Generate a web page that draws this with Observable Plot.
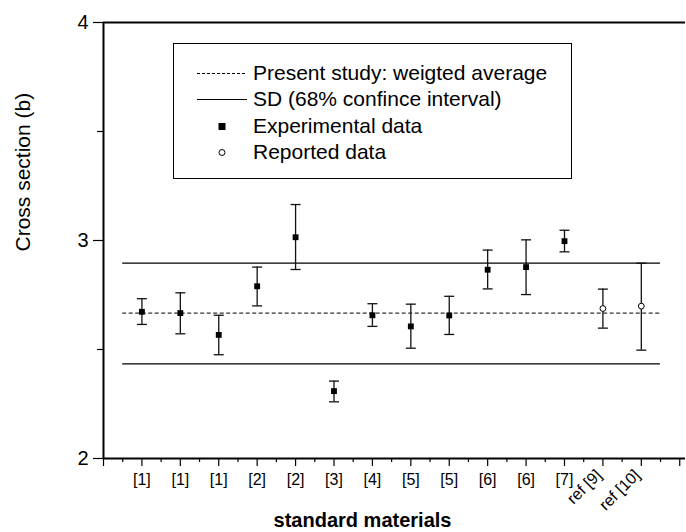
<!DOCTYPE html>
<html>
<head>
<meta charset="utf-8">
<script src="https://cdn.jsdelivr.net/npm/d3@7"></script>
<script src="https://cdn.jsdelivr.net/npm/@observablehq/plot@0.6"></script>
<style>
  html, body { margin: 0; padding: 0; background: #fff; }
  #wrap { position: relative; width: 686px; height: 532px; font-family: Arial, "Liberation Sans", sans-serif; }
  #legend { position: absolute; left: 173px; top: 43px; width: 399px; height: 136px; box-sizing: border-box; border: 1px solid #000; background: #fff; }
  .row { position: absolute; left: 0; height: 26px; line-height: 26px; font-size: 21px; color: #000; white-space: nowrap; }
  .row svg { position: absolute; left: 0; top: 0; }
  .row span { position: absolute; left: 79px; top: 0; }
</style>
</head>
<body>
<div id="wrap"></div>
<script>
// ---- data ----
const labels = ["[1]","[1]","[1]","[2]","[2]","[3]","[4]","[5]","[5]","[6]","[6]","[7]","ref [9]","ref [10]"];
const values = [2.673,2.667,2.567,2.790,3.015,2.309,2.657,2.606,2.656,2.866,2.878,2.997,2.688,2.699];
const upper  = [2.733,2.760,2.657,2.878,3.165,2.355,2.710,2.708,2.744,2.956,3.003,3.047,2.777,2.896];
const lower  = [2.615,2.572,2.476,2.700,2.867,2.260,2.606,2.506,2.569,2.778,2.752,2.948,2.598,2.497];
const kinds  = ["exp","exp","exp","exp","exp","exp","exp","exp","exp","exp","exp","exp","rep","rep"];
const average = 2.667;
const sdBand = [2.434, 2.896];
const lineSpan = [0.5, 14.5];
const yTicks = [2, 3, 4];
const yMinor = [2.5, 3.5];
const xTicks = d3.range(0, 16);
const xMinor = d3.range(0.5, 15, 1);

const data = labels.map((l, i) => ({pos: i + 1, label: l, v: values[i], hi: upper[i], lo: lower[i], kind: kinds[i]}));
const straight = data.filter(d => !d.label.startsWith("ref"));
const slanted = data.filter(d => d.label.startsWith("ref"));

const cap = {draw(c) { c.moveTo(-5, 0); c.lineTo(5, 0); }};
const font = "Arial, 'Liberation Sans', sans-serif";

const chart = Plot.plot({
  width: 686, height: 532,
  marginLeft: 103, marginRight: 1, marginTop: 22, marginBottom: 74,
  style: {fontFamily: font, color: "#000", background: "#fff", overflow: "visible"},
  x: {domain: [0, 15.15], axis: null},
  y: {domain: [2, 4], axis: null},
  marks: [
    // horizontal reference lines
    Plot.ruleY([average], {x1: lineSpan[0], x2: lineSpan[1], stroke: "#000", strokeWidth: 1, strokeDasharray: "4,2.5"}),
    Plot.ruleY(sdBand, {x1: lineSpan[0], x2: lineSpan[1], stroke: "#000", strokeWidth: 1.2}),
    // error bars
    Plot.ruleX(data, {x: "pos", y1: "lo", y2: "hi", stroke: "#111", strokeWidth: 1.3}),
    Plot.dot(data, {x: "pos", y: "hi", symbol: cap, stroke: "#111", strokeWidth: 1.3, fill: "none", r: 3}),
    Plot.dot(data, {x: "pos", y: "lo", symbol: cap, stroke: "#111", strokeWidth: 1.3, fill: "none", r: 3}),
    // points
    Plot.dot(data.filter(d => d.kind === "exp"), {x: "pos", y: "v", symbol: "square", r: 3.3, fill: "#000", stroke: "none"}),
    Plot.dot(data.filter(d => d.kind === "rep"), {x: "pos", y: "v", symbol: "circle", r: 2.9, fill: "#fff", stroke: "#000", strokeWidth: 1}),
    // axes
    Plot.axisY({ticks: yTicks, tickSize: 10, tickPadding: 5, fontSize: 20, tickFormat: d3.format("d"), label: null, strokeWidth: 1.2}),
    Plot.axisY({ticks: yMinor, tickSize: 6, tickFormat: () => "", label: null, strokeWidth: 1.2}),
    Plot.axisX({ticks: xTicks, tickSize: 8, tickFormat: () => "", label: null, strokeWidth: 1.2}),
    Plot.axisX({ticks: xMinor, tickSize: 4, tickFormat: () => "", label: null, strokeWidth: 1.2}),
    Plot.ruleX([0], {stroke: "#000", strokeWidth: 2}),
    Plot.ruleY([2, 4], {stroke: "#000", strokeWidth: 2}),
    // x labels
    Plot.text(straight, {x: "pos", y: 2, text: "label", fontSize: 16, lineAnchor: "middle", dy: 21, fill: "#000"}),
    Plot.text(slanted, {x: "pos", y: 2, text: "label", fontSize: 16, lineAnchor: "middle", textAnchor: "end", rotate: -45, dx: -4, dy: 14, fill: "#000"}),
    // axis titles
    Plot.text(["Cross section (b)"], {frameAnchor: "left", rotate: -90, dx: -80, dy: 11, fontSize: 21, fill: "#000", lineAnchor: "middle"}),
    Plot.text(["standard materials"], {frameAnchor: "bottom", dx: -32, dy: 68, lineAnchor: "bottom", fontSize: 20, fontWeight: "bold", fill: "#000"})
  ]
});

const wrap = document.getElementById("wrap");
wrap.appendChild(chart);

// legend overlay
const legendItems = [
  {text: "Present study: weigted average", type: "dash"},
  {text: "SD (68% confince interval)", type: "line"},
  {text: "Experimental data", type: "square"},
  {text: "Reported data", type: "circle"}
];
const legend = document.createElement("div");
legend.id = "legend";
const rowCenters = [29, 55, 82, 108];
legendItems.forEach((item, i) => {
  const row = document.createElement("div");
  row.className = "row";
  row.style.top = (rowCenters[i] - 13) + "px";
  row.style.width = "397px";
  let sample = "";
  if (item.type === "dash") sample = '<line x1="23" x2="73" y1="13.5" y2="13.5" stroke="#000" stroke-width="1" stroke-dasharray="3,2"/>';
  if (item.type === "line") sample = '<line x1="23" x2="73" y1="13.5" y2="13.5" stroke="#000" stroke-width="1.2"/>';
  if (item.type === "square") sample = '<rect x="44.5" y="10" width="7" height="7" fill="#000"/>';
  if (item.type === "circle") sample = '<circle cx="48" cy="13.5" r="3" fill="#fff" stroke="#000" stroke-width="1"/>';
  row.innerHTML = '<svg width="80" height="26">' + sample + '</svg><span>' + item.text + '</span>';
  legend.appendChild(row);
});
wrap.appendChild(legend);
</script>
</body>
</html>
